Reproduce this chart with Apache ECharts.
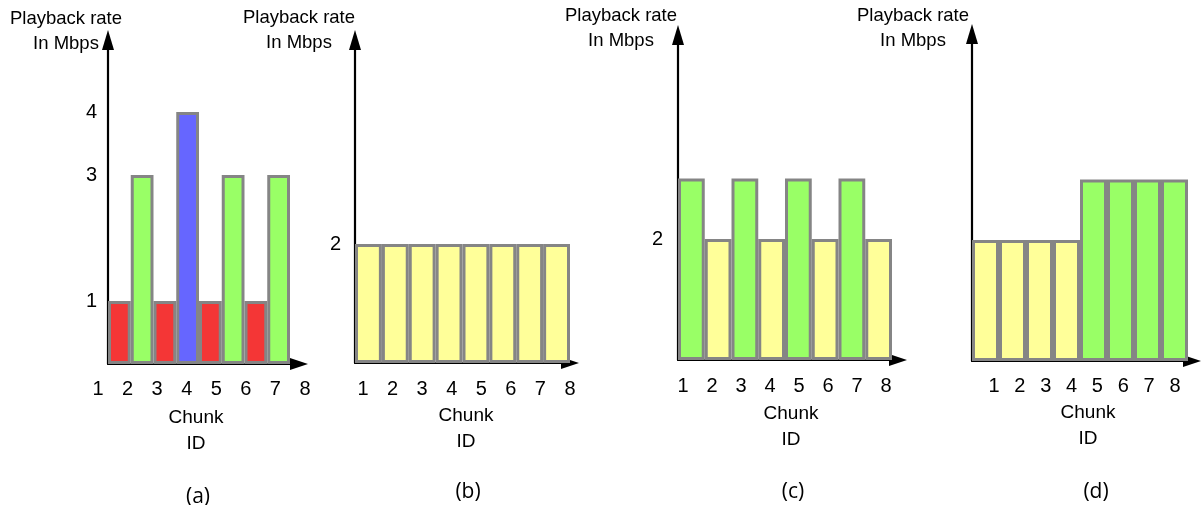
<!DOCTYPE html>
<html><head><meta charset="utf-8">
<script src="https://cdn.jsdelivr.net/npm/echarts@6/dist/echarts.min.js"></script>
<style>html,body{margin:0;padding:0;background:#fff}#c{width:1201px;height:505px}</style>
</head><body><div id="c"></div>
<script>
// ---- data ----
const chunkIds = ['1', '2', '3', '4', '5', '6', '7', '8'];
const ratesA = [1, 3, 1, 4, 1, 3, 1, 3];
const ratesB = [2, 2, 2, 2, 2, 2, 2, 2];
const ratesC = [3, 2, 3, 2, 3, 2, 3, 2];
const ratesD = [2, 2, 2, 2, 3, 3, 3, 3];
const yTicksA = [1, 3, 4];
const yTicksB = [2];
const yTicksC = [2];
const yTicksD = [];
const panelNames = ['(a)', '(b)', '(c)', '(d)'];
const yTitle = 'Playback rate\nIn Mbps';
const xTitle = 'Chunk\nID';

// ---- styles / layout ----
const rateColor = {1: '#f43636', 2: '#ffff99', 3: '#99ff66', 4: '#6666ff'};
const FONT = 'Liberation Sans, Arial, sans-serif';
const panels = [
  {rates: ratesA, ticks: yTicksA, axisX: 108, barsEnd: 290, tip: 30, base: 364, ppu: 63,  lab1: 98,  lab8: 305,  labMargin: 7,   titleX: 66,  titleTop: 6, yLabMargin: 11, xArrowOff: 9, chunkX: 196,  chunkTop: 405, capX: 198,  capTop: 483},
  {rates: ratesB, ticks: yTicksB, axisX: 355, barsEnd: 570, tip: 30, base: 363, ppu: 59.5, lab1: 363, lab8: 570,  labMargin: 7,   titleX: 299, titleTop: 5, yLabMargin: 14, xArrowOff: 0, chunkX: 466,  chunkTop: 403, capX: 468,  capTop: 478},
  {rates: ratesC, ticks: yTicksC, axisX: 678, barsEnd: 892, tip: 25, base: 360, ppu: 60.5, lab1: 683, lab8: 886,  labMargin: 4.5, titleX: 621, titleTop: 3, yLabMargin: 15, xArrowOff: 6, chunkX: 791,  chunkTop: 401, capX: 793,  capTop: 478},
  {rates: ratesD, ticks: yTicksD, axisX: 972, barsEnd: 1188, tip: 24, base: 361, ppu: 60.5, lab1: 994, lab8: 1175, labMargin: 4.5, titleX: 913, titleTop: 3, yLabMargin: 15, xArrowOff: 4, chunkX: 1088, chunkTop: 400, capX: 1096, capTop: 478}
];

const grid = [], xAxis = [], yAxis = [], series = [], title = [];
const txt = {fontFamily: FONT, fontSize: 18.5, fontWeight: 'normal', color: '#000', lineHeight: 25};

panels.forEach((p, i) => {
  const top = p.tip + 10;
  const h = p.base - top;
  grid.push({left: p.axisX, top: top, width: p.barsEnd - p.axisX, height: h, outerBoundsMode: 'none', containLabel: false});
  grid.push({left: p.lab1, top: 370, width: p.lab8 - p.lab1, height: 2, outerBoundsMode: 'none', containLabel: false});
  const gb = i * 2, gl = i * 2 + 1;
  xAxis.push({
    type: 'category', gridIndex: gb, data: chunkIds, boundaryGap: true,
    axisLine: {show: true, symbol: ['none', 'triangle'], symbolSize: [12, 18], symbolOffset: [0, p.xArrowOff], lineStyle: {color: '#000', width: 2}},
    axisTick: {show: false}, axisLabel: {show: false}, splitLine: {show: false}
  });
  xAxis.push({
    type: 'value', gridIndex: gl, min: 1, max: 8, interval: 1,
    axisLine: {show: false}, axisTick: {show: false}, splitLine: {show: false},
    axisLabel: {show: true, margin: p.labMargin, fontFamily: FONT, fontSize: 20, color: '#000', showMinLabel: true, showMaxLabel: true}
  });
  yAxis.push({
    type: 'value', gridIndex: gb, min: 0, max: h / p.ppu,
    axisLine: {show: true, symbol: ['none', 'triangle'], symbolSize: [12, 20], lineStyle: {color: '#000', width: 2.2}},
    axisTick: {show: false}, splitLine: {show: false},
    axisLabel: p.ticks.length ? {show: true, customValues: p.ticks, margin: p.yLabMargin, fontFamily: FONT, fontSize: 20, color: '#000'} : {show: false}
  });
  yAxis.push({type: 'value', gridIndex: gl, show: false});
  series.push({
    type: 'bar', xAxisIndex: gb, yAxisIndex: gb, barCategoryGap: '0%', silent: true,
    itemStyle: {borderColor: '#858585', borderWidth: 3},
    data: p.rates.map(v => ({value: v, itemStyle: {color: rateColor[v]}}))
  });
  title.push({text: yTitle, left: p.titleX, top: p.titleTop, textAlign: 'center', padding: 0, textStyle: txt});
  title.push({text: xTitle, left: p.chunkX, top: p.chunkTop, textAlign: 'center', padding: 0, textStyle: Object.assign({}, txt, {fontSize: 19, lineHeight: 26})});
  title.push({text: panelNames[i], left: p.capX, top: p.capTop, textAlign: 'center', padding: 0,
    textStyle: {fontFamily: 'Open Sans, Noto Sans, sans-serif', fontSize: 21, fontWeight: 'normal', color: '#000', lineHeight: 28}});
});

const chart = echarts.init(document.getElementById('c'), null, {renderer: 'canvas'});
chart.setOption({backgroundColor: '#fff', animation: false, title, grid, xAxis, yAxis, series});
</script>
</body></html>
